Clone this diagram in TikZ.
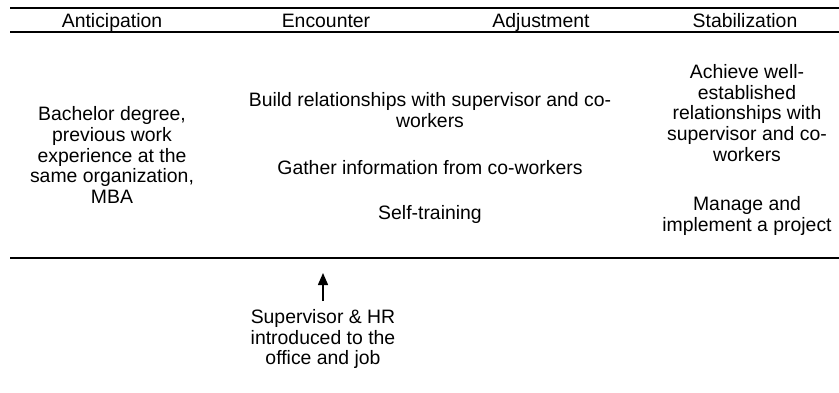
\documentclass[tikz,border=0pt]{standalone}
\usepackage{fontspec}
\setmainfont{Liberation Sans}
\usetikzlibrary{arrows.meta}
\begin{document}
\begin{tikzpicture}[x=1pt,y=-1pt,
	phase/.style={anchor=base,inner sep=0,font=\fontsize{19.4}{20.7}\selectfont},
	item/.style={align=center,inner sep=0,font=\fontsize{19.4}{20.7}\selectfont}]
	\useasboundingbox (0,0) rectangle (839,392);
	% Phases
	\node [phase] (antic) at (112,27) {Anticipation};
	\node [phase] (encount) at (326,27) {Encounter};
	\node [phase] (adjust) at (541,27) {Adjustment};
	\node [phase] (stabil) at (745,27) {Stabilization};
	% Rules
	\draw [line width=1.4] (10,8) -- (839,8);
	\draw [line width=1.4] (10,32) -- (839,32);
	\draw [line width=1.4] (10,258) -- (839,258);
	% Anticipation
	\node [item] (degree) at (112,155) {Bachelor degree,\\previous work\\experience at the\\same organization,\\MBA};
	% Encounter and adjustment
	\node [item] (relate) at (430,110) {Build relationships with supervisor and co-\\workers};
	\node [item] (gather) at (430,168) {Gather information from co-workers};
	\node [item] (selftrain) at (430,214) {Self-training};
	% Stabilization
	\node [item] (achieve) at (747,113) {Achieve well-\\established\\relationships with\\supervisor and co-\\workers};
	\node [item] (manage) at (747,216) {Manage and\\implement a project};
	% Entry
	\node [item] (intro) at (323,339) {Supervisor \& HR\\introduced to the\\office and job};
	\coordinate (hire) at (323,273);
	\draw [-{Triangle[length=12pt,width=10pt]},line width=1.5] ([yshift=8]intro.north) -- (hire);
\end{tikzpicture}
\end{document}
